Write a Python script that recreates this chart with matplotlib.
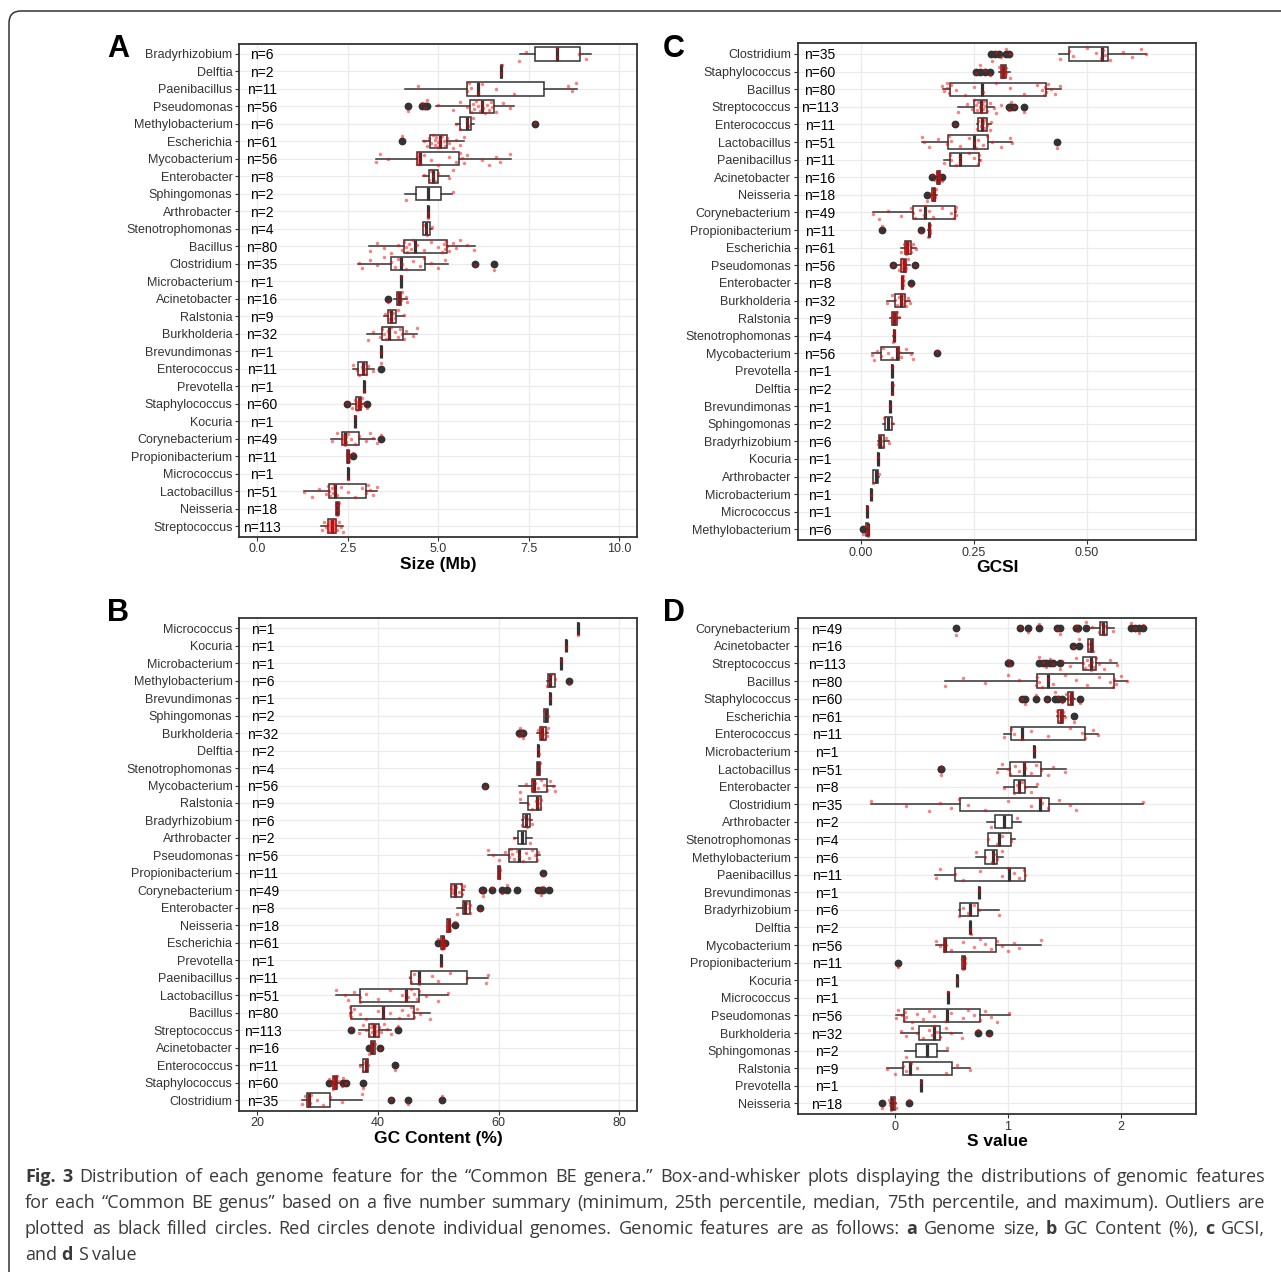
import matplotlib
matplotlib.use("Agg")
import matplotlib.pyplot as plt
from matplotlib.patches import FancyBboxPatch
from matplotlib.transforms import IdentityTransform

plt.rcParams['font.family'] = ['Liberation Sans', 'DejaVu Sans']

W, H = 1281, 1272
DARK = '#333333'

# ---------------- panel A : genome size (Mb) ----------------
A_genera = ["Bradyrhizobium", "Delftia", "Paenibacillus", "Pseudomonas", "Methylobacterium",
            "Escherichia", "Mycobacterium", "Enterobacter", "Sphingomonas", "Arthrobacter",
            "Stenotrophomonas", "Bacillus", "Clostridium", "Microbacterium", "Acinetobacter",
            "Ralstonia", "Burkholderia", "Brevundimonas", "Enterococcus", "Prevotella",
            "Staphylococcus", "Kocuria", "Corynebacterium", "Propionibacterium", "Micrococcus",
            "Lactobacillus", "Neisseria", "Streptococcus"]
A_n = [6, 2, 11, 56, 6, 61, 56, 8, 2, 2, 4, 80, 35, 1, 16, 9, 32, 1, 11, 1, 60, 1, 49, 11, 1, 51, 18, 113]
A_lo = [7.26, 6.74, 4.07, 4.94, 5.50, 4.59, 3.27, 4.59, 4.07, 4.71, 4.57, 3.08, 2.78, 3.98, 3.77,
        3.51, 3.02, 3.43, 2.64, 2.94, 2.62, 2.70, 2.04, 2.48, 2.50, 1.30, 2.17, 1.77]
A_q1 = [7.67, 6.745, 5.81, 5.87, 5.59, 4.76, 4.41, 4.74, 4.38, 4.715, 4.58, 4.04, 3.70, 3.98, 3.85,
        3.61, 3.44, 3.43, 2.77, 2.94, 2.73, 2.70, 2.35, 2.48, 2.50, 1.98, 2.17, 1.94]
A_med = [8.29, 6.75, 6.10, 6.20, 5.81, 5.04, 4.49, 4.86, 4.72, 4.72, 4.66, 4.35, 3.96, 3.98, 3.92,
         3.70, 3.63, 3.43, 2.93, 2.94, 2.80, 2.70, 2.42, 2.51, 2.50, 2.15, 2.21, 2.05]
A_q3 = [8.92, 6.755, 7.94, 6.53, 5.92, 5.25, 5.57, 4.99, 5.07, 4.725, 4.78, 5.24, 4.63, 3.98, 3.97,
        3.83, 4.02, 3.43, 3.02, 2.94, 2.86, 2.70, 2.80, 2.54, 2.50, 3.01, 2.26, 2.16]
A_hi = [9.23, 6.76, 8.84, 7.09, 5.98, 5.70, 7.01, 5.31, 5.38, 4.73, 4.83, 6.01, 5.27, 3.98, 4.15,
        4.06, 4.41, 3.43, 3.22, 2.94, 2.95, 2.70, 3.24, 2.54, 2.50, 3.31, 2.26, 2.38]
A_out = [[], [], [], [4.17, 4.56, 4.63, 4.70], [7.67], [3.99], [], [], [], [], [], [], [6.01, 6.54],
         [], [3.60], [], [], [], [3.43], [], [2.49, 3.03], [], [3.43], [2.63], [], [], [], []]
A_pts = [
    [7.23, 7.42, 8.29, 8.30, 8.90, 9.10],
    [6.74, 6.76],
    [4.45, 5.80, 5.85, 5.90, 6.10, 6.20, 6.60, 7.10, 8.60, 8.70, 8.80],
    [4.17, 4.56, 4.63, 4.70, 5.00, 5.40, 5.60, 5.80, 5.90, 5.95, 6.00, 6.05, 6.10, 6.15, 6.20,
     6.25, 6.30, 6.35, 6.40, 6.45, 6.50, 6.60, 6.80, 7.00],
    [5.50, 5.60, 5.80, 5.85, 5.95, 7.67],
    [3.99, 4.60, 4.70, 4.75, 4.80, 4.85, 4.90, 4.90, 4.95, 5.00, 5.00, 5.05, 5.05, 5.10, 5.15,
     5.20, 5.25, 5.30, 5.40, 5.50, 5.60, 5.70],
    [3.27, 3.40, 3.60, 4.40, 4.42, 4.43, 4.45, 4.46, 4.50, 4.60, 4.80, 5.00, 5.30, 5.50, 5.60,
     5.65, 5.70, 5.80, 6.20, 6.40, 6.60, 6.70, 7.00],
    [4.60, 4.75, 4.80, 4.85, 4.90, 5.00, 5.30, 5.40],
    [4.10, 5.40],
    [4.71, 4.73],
    [4.58, 4.65, 4.70, 4.83],
    [3.10, 3.30, 3.50, 3.70, 3.90, 4.00, 4.05, 4.10, 4.15, 4.20, 4.25, 4.30, 4.40, 4.60, 4.80,
     5.00, 5.10, 5.15, 5.20, 5.22, 5.25, 5.30, 5.40, 5.50, 5.60, 5.80, 6.00],
    [2.80, 2.90, 3.10, 3.30, 3.50, 3.70, 3.80, 3.90, 4.00, 4.10, 4.30, 4.50, 4.60, 4.80, 5.00,
     5.20, 6.01, 6.54],
    [3.98],
    [3.60, 3.85, 3.90, 3.92, 3.95, 3.97, 4.00, 4.10, 4.15],
    [3.52, 3.60, 3.65, 3.70, 3.70, 3.75, 3.80, 3.90, 4.05],
    [3.05, 3.20, 3.40, 3.45, 3.50, 3.55, 3.60, 3.65, 3.70, 3.80, 3.90, 3.95, 4.00, 4.05, 4.10,
     4.30, 4.40],
    [3.43],
    [2.65, 2.75, 2.80, 2.90, 2.92, 2.95, 2.97, 3.00, 3.05, 3.20, 3.43],
    [2.94],
    [2.49, 2.62, 2.70, 2.73, 2.75, 2.78, 2.79, 2.80, 2.81, 2.82, 2.84, 2.86, 2.90, 2.95, 3.03],
    [2.70],
    [2.05, 2.20, 2.35, 2.36, 2.38, 2.40, 2.42, 2.44, 2.45, 2.50, 2.60, 2.70, 2.80, 3.00, 3.10,
     3.20, 3.30, 3.43],
    [2.48, 2.50, 2.51, 2.52, 2.54, 2.63],
    [2.50],
    [1.30, 1.50, 1.70, 1.90, 1.95, 1.98, 2.00, 2.05, 2.10, 2.12, 2.15, 2.20, 2.30, 2.50, 2.70,
     2.90, 3.00, 3.05, 3.10, 3.20, 3.30],
    [2.17, 2.20, 2.21, 2.22, 2.24, 2.26],
    [1.78, 1.85, 1.90, 1.94, 1.95, 1.96, 1.98, 2.00, 2.02, 2.03, 2.04, 2.05, 2.06, 2.07, 2.08,
     2.10, 2.11, 2.12, 2.14, 2.15, 2.18, 2.20, 2.25, 2.30, 2.38],
]

# ---------------- panel C : GCSI ----------------
C_genera = ["Clostridium", "Staphylococcus", "Bacillus", "Streptococcus", "Enterococcus",
            "Lactobacillus", "Paenibacillus", "Acinetobacter", "Neisseria", "Corynebacterium",
            "Propionibacterium", "Escherichia", "Pseudomonas", "Enterobacter", "Burkholderia",
            "Ralstonia", "Stenotrophomonas", "Mycobacterium", "Prevotella", "Delftia",
            "Brevundimonas", "Sphingomonas", "Bradyrhizobium", "Kocuria", "Arthrobacter",
            "Microbacterium", "Micrococcus", "Methylobacterium"]
C_n = [35, 60, 80, 113, 11, 51, 11, 16, 18, 49, 11, 61, 56, 8, 32, 9, 4, 56, 1, 2, 1, 2, 6, 1, 2, 1, 1, 6]
C_lo = [0.439, 0.306, 0.181, 0.216, 0.256, 0.135, 0.184, 0.165, 0.156, 0.027, 0.149, 0.089, 0.081,
        0.091, 0.058, 0.065, 0.072, 0.024, 0.070, 0.0695, 0.064, 0.049, 0.037, 0.038, 0.027, 0.023,
        0.014, 0.012]
C_q1 = [0.461, 0.310, 0.197, 0.250, 0.260, 0.192, 0.198, 0.168, 0.158, 0.115, 0.150, 0.097, 0.089,
        0.091, 0.075, 0.068, 0.0725, 0.045, 0.070, 0.0695, 0.064, 0.054, 0.041, 0.038, 0.028, 0.023,
        0.014, 0.012]
C_med = [0.533, 0.315, 0.267, 0.265, 0.269, 0.251, 0.219, 0.171, 0.161, 0.143, 0.151, 0.102, 0.095,
         0.092, 0.089, 0.074, 0.073, 0.080, 0.070, 0.070, 0.064, 0.060, 0.043, 0.038, 0.034, 0.023,
         0.014, 0.015]
C_q3 = [0.546, 0.320, 0.410, 0.279, 0.279, 0.281, 0.261, 0.175, 0.164, 0.209, 0.153, 0.112, 0.100,
        0.094, 0.098, 0.081, 0.0735, 0.084, 0.070, 0.0705, 0.064, 0.068, 0.052, 0.038, 0.039, 0.023,
        0.014, 0.017]
C_hi = [0.630, 0.329, 0.442, 0.294, 0.289, 0.334, 0.264, 0.178, 0.168, 0.211, 0.154, 0.121, 0.108,
        0.094, 0.108, 0.087, 0.074, 0.115, 0.070, 0.0705, 0.064, 0.073, 0.062, 0.038, 0.041, 0.023,
        0.014, 0.017]
C_out = [[0.287, 0.297, 0.306, 0.321, 0.327], [0.254, 0.264, 0.275, 0.285], [],
         [0.327, 0.333, 0.339, 0.361], [0.208], [0.433], [], [0.158, 0.180], [0.147], [],
         [0.048, 0.134], [], [0.072, 0.119], [0.111], [], [], [], [0.168], [], [], [], [], [], [],
         [], [], [], [0.006]]
C_pts = [
    [0.29, 0.30, 0.31, 0.32, 0.33, 0.44, 0.46, 0.47, 0.50, 0.52, 0.53, 0.535, 0.54, 0.55, 0.58,
     0.60, 0.62, 0.63],
    [0.254, 0.264, 0.275, 0.285, 0.306, 0.31, 0.312, 0.313, 0.314, 0.315, 0.316, 0.318, 0.32,
     0.322, 0.329],
    [0.18, 0.185, 0.19, 0.19, 0.195, 0.20, 0.21, 0.23, 0.25, 0.27, 0.30, 0.33, 0.36, 0.39, 0.40,
     0.405, 0.408, 0.41, 0.415, 0.42, 0.43, 0.44],
    [0.216, 0.235, 0.245, 0.25, 0.255, 0.258, 0.26, 0.263, 0.265, 0.268, 0.27, 0.272, 0.275,
     0.279, 0.285, 0.294, 0.30, 0.31, 0.327, 0.333, 0.339, 0.361],
    [0.208, 0.256, 0.26, 0.265, 0.269, 0.27, 0.272, 0.275, 0.279, 0.285, 0.289],
    [0.135, 0.14, 0.15, 0.17, 0.19, 0.195, 0.20, 0.22, 0.24, 0.25, 0.255, 0.26, 0.27, 0.28, 0.29,
     0.31, 0.33, 0.335, 0.433],
    [0.184, 0.198, 0.20, 0.21, 0.219, 0.22, 0.24, 0.25, 0.26, 0.262, 0.264],
    [0.158, 0.165, 0.168, 0.17, 0.17, 0.171, 0.172, 0.173, 0.175, 0.18],
    [0.147, 0.156, 0.158, 0.16, 0.16, 0.161, 0.162, 0.164, 0.166],
    [0.027, 0.04, 0.06, 0.09, 0.11, 0.115, 0.12, 0.13, 0.14, 0.143, 0.15, 0.16, 0.18, 0.20,
     0.205, 0.209, 0.21, 0.211],
    [0.048, 0.134, 0.149, 0.151, 0.152, 0.153, 0.154],
    [0.089, 0.095, 0.097, 0.099, 0.10, 0.10, 0.101, 0.102, 0.103, 0.104, 0.105, 0.107, 0.11,
     0.112, 0.115, 0.121],
    [0.072, 0.085, 0.089, 0.09, 0.092, 0.093, 0.094, 0.095, 0.096, 0.097, 0.098, 0.10, 0.105,
     0.119],
    [0.091, 0.092, 0.092, 0.093, 0.093, 0.094, 0.094, 0.111],
    [0.058, 0.07, 0.075, 0.08, 0.085, 0.088, 0.09, 0.092, 0.094, 0.095, 0.098, 0.10, 0.105, 0.108],
    [0.068, 0.07, 0.072, 0.074, 0.075, 0.076, 0.078, 0.081, 0.085],
    [0.072, 0.073, 0.073, 0.074],
    [0.024, 0.03, 0.035, 0.045, 0.05, 0.06, 0.07, 0.08, 0.082, 0.083, 0.084, 0.09, 0.10, 0.11,
     0.115, 0.168],
    [0.070],
    [0.0695, 0.0705],
    [0.064],
    [0.052, 0.07],
    [0.037, 0.042, 0.045, 0.05, 0.055, 0.062],
    [0.038],
    [0.028, 0.04],
    [0.023],
    [0.014],
    [0.006, 0.012, 0.014, 0.015, 0.016, 0.017],
]

# ---------------- panel B : GC content (%) ----------------
B_genera = ["Micrococcus", "Kocuria", "Microbacterium", "Methylobacterium", "Brevundimonas",
            "Sphingomonas", "Burkholderia", "Delftia", "Stenotrophomonas", "Mycobacterium",
            "Ralstonia", "Bradyrhizobium", "Arthrobacter", "Pseudomonas", "Propionibacterium",
            "Corynebacterium", "Enterobacter", "Neisseria", "Escherichia", "Prevotella",
            "Paenibacillus", "Lactobacillus", "Bacillus", "Streptococcus", "Acinetobacter",
            "Enterococcus", "Staphylococcus", "Clostridium"]
B_n = [1, 1, 1, 6, 1, 2, 32, 2, 4, 56, 9, 6, 2, 56, 11, 49, 8, 18, 61, 1, 11, 51, 80, 113, 16, 11, 60, 35]
B_lo = [73.1, 71.2, 70.3, 68.1, 68.5, 67.5, 66.4, 66.6, 66.4, 63.4, 63.5, 63.8, 62.5, 58.2, 59.9,
        52.2, 53.1, 51.4, 50.3, 50.4, 45.4, 33.1, 35.4, 36.9, 38.8, 37.0, 32.3, 27.4]
B_q1 = [73.1, 71.2, 70.3, 68.2, 68.5, 67.5, 66.8, 66.6, 66.4, 65.5, 64.8, 64.1, 63.2, 61.8, 59.95,
        52.2, 54.1, 51.43, 50.5, 50.4, 45.5, 37.0, 35.5, 38.5, 38.8, 37.6, 32.55, 28.2]
B_med = [73.1, 71.2, 70.3, 68.6, 68.5, 67.8, 67.2, 66.6, 66.6, 65.8, 66.4, 64.6, 63.8, 63.4, 60.07,
         52.7, 54.5, 51.72, 50.74, 50.4, 46.8, 44.6, 40.8, 39.3, 39.0, 38.0, 32.84, 28.6]
B_q3 = [73.1, 71.2, 70.3, 69.3, 68.5, 68.2, 67.8, 66.6, 66.8, 68.0, 67.0, 65.2, 64.5, 66.3, 60.2,
        54.0, 55.2, 51.95, 50.97, 50.4, 54.8, 46.8, 46.0, 40.2, 39.5, 38.3, 33.24, 32.1]
B_hi = [73.1, 71.2, 70.3, 69.4, 68.5, 68.2, 68.2, 66.6, 66.8, 69.4, 67.0, 65.5, 65.5, 66.8, 60.2,
        54.2, 55.2, 52.0, 51.0, 50.4, 58.3, 51.7, 48.7, 42.1, 39.5, 38.3, 34.0, 37.4]
B_out = [[], [], [], [71.6], [], [], [63.4, 63.6, 63.8, 64.1], [], [], [57.8], [], [], [], [],
         [67.3], [57.2, 57.5, 58.9, 60.6, 61.4, 63.0, 66.6, 67.0, 67.3, 68.4], [56.9], [52.7],
         [50.0, 51.15], [], [], [], [], [35.5, 43.4], [38.6, 40.4], [42.8],
         [31.97, 34.27, 34.68, 37.56], [42.2, 45.0, 50.7]]
B_pts = [
    [73.1], [71.2], [70.3],
    [68.1, 68.3, 68.6, 68.8, 69.3, 71.6],
    [68.5],
    [67.5, 68.2],
    [63.4, 63.6, 63.8, 64.1, 66.5, 66.8, 67.0, 67.1, 67.15, 67.2, 67.3, 67.5, 67.8, 68.0, 68.2],
    [66.6, 66.65],
    [66.4, 66.5, 66.7, 66.8],
    [57.8, 63.5, 64.5, 65.5, 65.6, 65.7, 65.8, 66.0, 66.5, 67.0, 67.5, 68.0, 68.5, 69.0, 69.4],
    [63.5, 64.8, 65.5, 66.2, 66.4, 66.5, 66.6, 66.8, 67.0],
    [63.8, 64.2, 64.5, 64.7, 65.0, 65.5],
    [62.6, 65.2],
    [58.2, 59.0, 60.0, 61.0, 61.8, 62.0, 62.2, 62.5, 63.0, 63.4, 64.0, 64.5, 65.0, 65.5, 66.0,
     66.3, 66.6],
    [59.9, 60.0, 60.07, 60.1, 60.2, 67.3],
    [52.2, 52.25, 52.3, 52.5, 52.7, 53.0, 53.5, 53.8, 53.95, 54.0, 54.2, 57.2, 57.5, 58.9, 60.6,
     61.4, 66.6, 67.0, 67.3],
    [53.1, 54.1, 54.5, 54.8, 55.1, 55.2, 55.2, 56.9],
    [51.4, 51.5, 51.6, 51.7, 51.8, 51.9, 52.0, 52.7],
    [50.0, 50.5, 50.6, 50.7, 50.72, 50.74, 50.8, 50.9, 51.0, 51.15],
    [50.4],
    [45.4, 45.5, 46.0, 46.8, 46.9, 49.0, 50.0, 52.0, 54.8, 58.0, 58.3],
    [33.1, 34.5, 35.0, 36.0, 37.0, 37.1, 38.0, 40.0, 42.0, 44.0, 44.6, 44.7, 45.0, 45.5, 46.0,
     46.5, 46.8, 48.0, 50.0, 51.7],
    [35.4, 35.45, 35.5, 35.6, 36.0, 37.0, 38.0, 40.0, 40.8, 40.9, 42.0, 43.5, 44.0, 45.0, 45.5,
     45.9, 46.0, 46.5, 47.0, 48.7],
    [35.5, 36.9, 37.5, 38.0, 38.5, 38.8, 39.0, 39.1, 39.3, 39.5, 39.6, 39.8, 40.0, 40.2, 40.5,
     41.0, 41.5, 42.1, 43.4],
    [38.6, 38.8, 38.9, 39.0, 39.1, 39.3, 39.5, 40.4],
    [37.0, 37.6, 37.8, 38.0, 38.1, 38.3, 42.8],
    [31.97, 32.3, 32.5, 32.6, 32.7, 32.75, 32.8, 32.85, 32.9, 33.0, 33.2, 33.5, 34.0, 34.27,
     34.68, 37.56],
    [27.4, 28.0, 28.2, 28.4, 28.6, 28.7, 29.0, 30.0, 31.0, 32.1, 34.0, 37.4, 42.2, 45.0, 50.7],
]

# ---------------- panel D : S value ----------------
D_genera = ["Corynebacterium", "Acinetobacter", "Streptococcus", "Bacillus", "Staphylococcus",
            "Escherichia", "Enterococcus", "Microbacterium", "Lactobacillus", "Enterobacter",
            "Clostridium", "Arthrobacter", "Stenotrophomonas", "Methylobacterium", "Paenibacillus",
            "Brevundimonas", "Bradyrhizobium", "Delftia", "Mycobacterium", "Propionibacterium",
            "Kocuria", "Micrococcus", "Pseudomonas", "Burkholderia", "Sphingomonas", "Ralstonia",
            "Prevotella", "Neisseria"]
D_n = [49, 16, 113, 80, 60, 61, 11, 1, 51, 8, 35, 2, 4, 6, 11, 1, 6, 2, 56, 11, 1, 1, 56, 32, 2, 9, 1, 18]
D_lo = [1.736, 1.705, 1.475, 0.445, 1.505, 1.429, 0.968, 1.229, 0.912, 0.968, -0.209, 0.814, 0.820,
        0.713, 0.359, 0.743, 0.570, 0.660, 0.363, 0.593, 0.553, 0.470, 0.006, 0.052, 0.092, -0.068,
        0.230, -0.045]
D_q1 = [1.813, 1.711, 1.659, 1.260, 1.530, 1.438, 1.029, 1.229, 1.020, 1.054, 0.574, 0.885, 0.820,
        0.799, 0.528, 0.743, 0.578, 0.662, 0.430, 0.593, 0.553, 0.470, 0.083, 0.209, 0.184, 0.068,
        0.230, -0.037]
D_med = [1.843, 1.730, 1.736, 1.352, 1.555, 1.469, 1.121, 1.229, 1.143, 1.100, 1.284, 0.962, 0.916,
         0.869, 1.005, 0.743, 0.661, 0.667, 0.439, 0.608, 0.553, 0.470, 0.461, 0.350, 0.280, 0.138,
         0.230, -0.022]
D_q3 = [1.874, 1.751, 1.782, 1.935, 1.573, 1.490, 1.680, 1.229, 1.290, 1.146, 1.361, 1.038, 1.029,
        0.906, 1.146, 0.743, 0.737, 0.672, 0.897, 0.624, 0.553, 0.470, 0.750, 0.399, 0.375, 0.501,
        0.230, 0.000]
D_hi = [1.935, 1.755, 1.960, 2.049, 1.590, 1.505, 1.797, 1.229, 1.515, 1.253, 2.197, 1.115, 1.060,
        0.959, 1.152, 0.743, 0.916, 0.675, 1.290, 0.624, 0.553, 0.470, 1.014, 0.593, 0.467, 0.667,
        0.230, 0.010]
D_out = [[0.544, 1.106, 1.174, 1.275, 1.429, 1.459, 1.598, 1.622, 1.690, 2.089, 2.120, 2.160, 2.190],
         [1.576, 1.628], [0.998, 1.014, 1.275, 1.306, 1.336, 1.367, 1.398, 1.459], [],
         [1.121, 1.146, 1.250, 1.343, 1.413, 1.444, 1.475, 1.634], [1.582], [], [], [0.406, 0.410],
         [], [], [], [], [], [], [], [], [], [], [0.031], [], [], [], [0.731, 0.829], [], [], [],
         [-0.114, 0.126]]
D_pts = [
    [0.544, 1.106, 1.174, 1.275, 1.429, 1.459, 1.598, 1.622, 1.69, 1.74, 1.80, 1.82, 1.84, 1.85,
     1.87, 1.93, 2.09, 2.12, 2.16, 2.19],
    [1.576, 1.628, 1.71, 1.72, 1.73, 1.74, 1.75],
    [0.998, 1.014, 1.275, 1.306, 1.336, 1.367, 1.398, 1.459, 1.48, 1.55, 1.60, 1.66, 1.68, 1.70,
     1.72, 1.73, 1.74, 1.76, 1.78, 1.80, 1.85, 1.90, 1.96],
    [0.445, 0.60, 0.80, 1.00, 1.10, 1.25, 1.26, 1.27, 1.30, 1.35, 1.40, 1.50, 1.60, 1.70, 1.80,
     1.90, 1.93, 1.94, 1.95, 2.00, 2.05],
    [1.121, 1.146, 1.25, 1.343, 1.413, 1.444, 1.475, 1.51, 1.53, 1.545, 1.55, 1.555, 1.56, 1.57,
     1.634],
    [1.43, 1.44, 1.45, 1.46, 1.465, 1.468, 1.47, 1.48, 1.49, 1.50, 1.582],
    [0.968, 1.03, 1.05, 1.12, 1.20, 1.35, 1.55, 1.65, 1.68, 1.75, 1.797],
    [1.229],
    [0.406, 0.41, 0.90, 0.95, 1.00, 1.02, 1.06, 1.10, 1.14, 1.15, 1.20, 1.25, 1.29, 1.35, 1.40,
     1.50],
    [0.968, 1.05, 1.08, 1.10, 1.12, 1.146, 1.20, 1.253],
    [-0.209, 0.10, 0.30, 0.40, 0.50, 0.57, 0.65, 0.80, 1.00, 1.20, 1.28, 1.30, 1.35, 1.45, 1.55,
     1.60, 2.19],
    [0.85, 1.08],
    [0.82, 0.90, 0.95, 1.03],
    [0.72, 0.80, 0.86, 0.88, 0.90, 0.95],
    [0.36, 0.40, 0.53, 0.60, 0.75, 0.95, 1.00, 1.05, 1.10, 1.14, 1.15],
    [0.743],
    [0.57, 0.60, 0.65, 0.70, 0.74, 0.92],
    [0.665, 0.67],
    [0.363, 0.40, 0.43, 0.435, 0.438, 0.44, 0.45, 0.50, 0.60, 0.70, 0.75, 0.80, 0.85, 0.90, 0.95,
     1.00, 1.05, 1.10, 1.29],
    [0.031, 0.593, 0.60, 0.605, 0.61, 0.615, 0.62, 0.624],
    [0.553],
    [0.470],
    [0.006, 0.03, 0.06, 0.08, 0.09, 0.10, 0.15, 0.20, 0.25, 0.30, 0.35, 0.45, 0.50, 0.60, 0.65,
     0.70, 0.75, 0.80, 0.85, 0.90, 1.01],
    [0.052, 0.10, 0.15, 0.20, 0.25, 0.30, 0.33, 0.35, 0.37, 0.40, 0.45, 0.50, 0.59, 0.731, 0.829],
    [0.10, 0.46],
    [-0.068, 0.00, 0.07, 0.10, 0.14, 0.20, 0.45, 0.55, 0.667],
    [0.230],
    [-0.114, -0.05, -0.04, -0.03, -0.025, -0.02, -0.01, 0.00, 0.01, 0.126],
]

fig = plt.figure(figsize=(W / 100, H / 100), dpi=100)


def add_ax(left, right, top, bottom):
    return fig.add_axes([left / W, 1 - bottom / H, (right - left) / W, (bottom - top) / H])


def jit(i, j):
    # fixed, non-random vertical spread for the genome points
    return (((j * 0.618034 + i * 0.377) % 1.0) - 0.5) * 0.75


def draw_panel(ax, genera, counts, lo, q1, med, q3, hi, out, pts, xlim, xticks, xticklabels, nx):
    k = len(genera)
    ypos = [k - 1 - i for i in range(k)]
    stats = [dict(whislo=lo[i], q1=q1[i], med=med[i], q3=q3[i], whishi=hi[i], fliers=out[i])
             for i in range(k)]
    ax.bxp(stats, positions=ypos, widths=0.75, orientation='horizontal', patch_artist=True,
           showcaps=False,
           boxprops=dict(facecolor='white', edgecolor=DARK, linewidth=1.1),
           whiskerprops=dict(color=DARK, linewidth=1.1),
           medianprops=dict(color=DARK, linewidth=2.3, solid_capstyle='butt'),
           flierprops=dict(marker='o', markerfacecolor=DARK, markeredgecolor=DARK,
                           markersize=4.6, linestyle='none'))
    xs, ys = [], []
    for i in range(k):
        for j, v in enumerate(pts[i]):
            xs.append(v)
            ys.append(ypos[i] + jit(i, j))
    ax.plot(xs, ys, 'o', color='red', markersize=2.5, markeredgewidth=0, alpha=0.5, zorder=5)
    for i in range(k):
        ax.text(nx, ypos[i], "n=%d" % counts[i], ha='center', va='center_baseline', fontsize=10,
                color='black', zorder=6)
    ax.set_yticks(ypos)
    ax.set_yticklabels(genera)
    ax.set_ylim(-0.6, k - 0.4)
    ax.set_xlim(*xlim)
    ax.set_xticks(xticks)
    ax.set_xticklabels(xticklabels)
    ax.grid(True, color='#EBEBEB', linewidth=0.9)
    ax.set_axisbelow(True)
    for s in ax.spines.values():
        s.set_color(DARK)
        s.set_linewidth(1.3)
    ax.tick_params(axis='both', length=3, width=0.8, color=DARK, labelsize=9,
                   labelcolor=DARK, pad=2)


axA = add_ax(239.4, 637.0, 43.5, 536.5)
draw_panel(axA, A_genera, A_n, A_lo, A_q1, A_med, A_q3, A_hi, A_out, A_pts,
           (-0.5, 10.5), [0, 2.5, 5, 7.5, 10], ["0.0", "2.5", "5.0", "7.5", "10.0"], 0.12)
axC = add_ax(797.9, 1195.5, 43.4, 540.0)
draw_panel(axC, C_genera, C_n, C_lo, C_q1, C_med, C_q3, C_hi, C_out, C_pts,
           (-0.139, 0.740), [0, 0.25, 0.5], ["0.00", "0.25", "0.50"], -0.09)
axB = add_ax(239.4, 637.0, 617.8, 1110.5)
draw_panel(axB, B_genera, B_n, B_lo, B_q1, B_med, B_q3, B_hi, B_out, B_pts,
           (17.07, 82.93), [20, 40, 60, 80], ["20", "40", "60", "80"], 21.0)
axD = add_ax(797.9, 1195.5, 617.7, 1114.0)
draw_panel(axD, D_genera, D_n, D_lo, D_q1, D_med, D_q3, D_hi, D_out, D_pts,
           (-0.857, 2.657), [0, 1, 2], ["0", "1", "2"], -0.6)

# axis titles and panel letters (pixel positions)
for label, cx, cy in [("Size (Mb)", 438, 565), ("GCSI", 997, 568),
                      ("GC Content (%)", 438, 1139), ("S value", 997, 1142)]:
    fig.text(cx / W, 1 - cy / H, label, ha='center', va='center', fontsize=12.5,
             fontweight='bold', color='black')
for letter, lx, ly in [("A", 107, 57), ("C", 663, 57), ("B", 107, 621), ("D", 663, 621)]:
    fig.text(lx / W, 1 - ly / H, letter, ha='left', va='baseline', fontsize=22,
             fontweight='bold', color='black')

# outer rounded frame
frame = FancyBboxPatch((9, -40), 1400, H - 11 + 40, boxstyle="round,pad=0,rounding_size=12",
                       transform=IdentityTransform(), facecolor='none', edgecolor=DARK,
                       linewidth=1.1)
fig.add_artist(frame)

# caption, justified like the journal layout
cap_lines = [
    [("Fig. 3", True), ("Distribution of each genome feature for the “Common BE genera.” "
                        "Box-and-whisker plots displaying the distributions of genomic features", False)],
    [("for each “Common BE genus” based on a five number summary (minimum, 25th percentile, "
      "median, 75th percentile, and maximum). Outliers are", False)],
    [("plotted as black filled circles. Red circles denote individual genomes. Genomic features "
      "are as follows:", False), ("a", True), ("Genome size,", False), ("b", True),
     ("GC Content (%),", False), ("c", True), ("GCSI,", False)],
    [("and", False), ("d", True), ("S value", False)],
]
cap_y = [1177, 1203, 1229, 1255]
cap_left, cap_right = 25, 1265
cap_font = 'Open Sans'
renderer = fig.canvas.get_renderer()


def word_list(line):
    words = []
    for seg, bold in line:
        for w in seg.split(' '):
            if w:
                words.append((w, bold))
    return words


def measure(txt, bold, fs):
    t = fig.text(0, 0, txt, fontsize=fs, family=cap_font,
                 fontweight='bold' if bold else 'normal', transform=IdentityTransform())
    w = t.get_window_extent(renderer).width
    t.remove()
    return w


base = 12.0
space = measure("x x", False, base) - measure("xx", False, base)
natural = []
for line in cap_lines[:3]:
    ws = word_list(line)
    natural.append(sum(measure(w, b, base) for w, b in ws) + space * (len(ws) - 1))
fs = min(13.0, base * (cap_right - cap_left) / max(natural) * 0.985)
space = measure("x x", False, fs) - measure("xx", False, fs)

for li, line in enumerate(cap_lines):
    ws = word_list(line)
    widths = [measure(w, b, fs) for w, b in ws]
    if li < 3:
        gap = (cap_right - cap_left - sum(widths)) / (len(ws) - 1)
    else:
        gap = space
    x = cap_left
    yb = H - (cap_y[li] + 5)
    for (w, b), wd in zip(ws, widths):
        fig.text(x, yb, w, fontsize=fs, family=cap_font, fontweight='bold' if b else 'normal',
                 color='#3a3a3a', va='baseline', ha='left', transform=IdentityTransform())
        x += wd + gap

fig.savefig("out.png", dpi=100)
